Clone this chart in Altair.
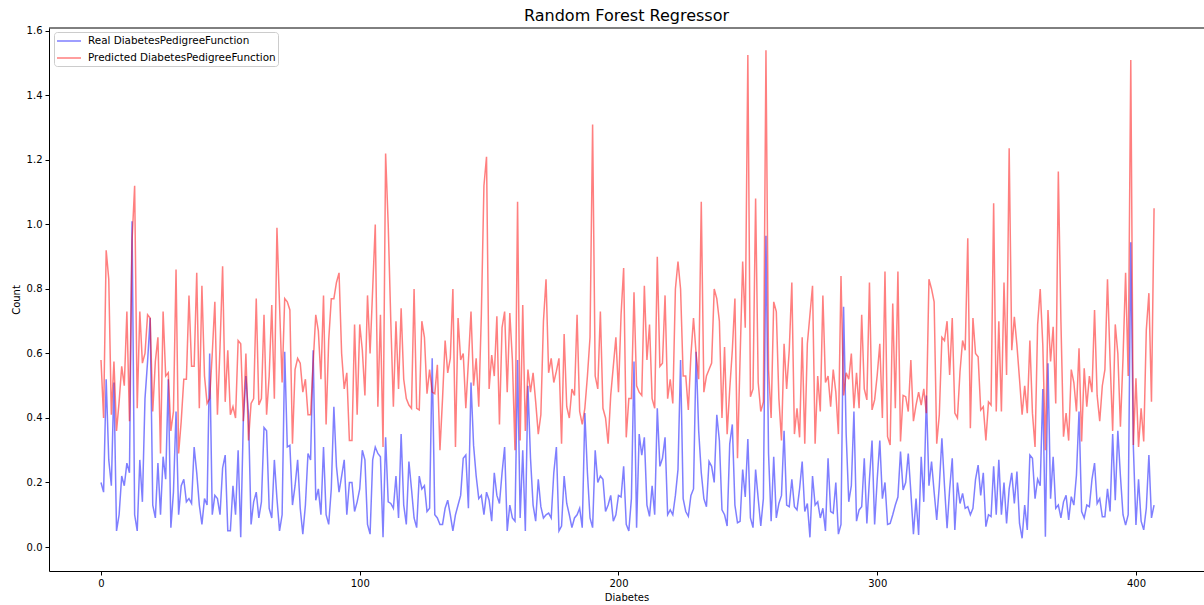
import altair as alt
import pandas as pd

# Real values (blue), index 0..407
real = [
    0.20, 0.17, 0.52, 0.27, 0.19, 0.51, 0.05, 0.10, 0.22, 0.19, 0.26, 0.23, 1.01, 0.10, 0.05, 0.27, 0.14, 0.46, 0.575, 0.71, 0.13, 0.09, 0.26, 0.10, 0.28, 0.21, 0.52, 0.06, 0.17, 0.42, 0.10, 0.19, 0.21,
    0.14, 0.15, 0.135, 0.31, 0.23, 0.13, 0.07, 0.15, 0.13, 0.60, 0.10, 0.16, 0.15, 0.10, 0.245, 0.285, 0.05, 0.05, 0.19, 0.10, 0.30, 0.03, 0.39, 0.53, 0.41, 0.07, 0.14, 0.17, 0.09, 0.14, 0.37, 0.36, 0.12, 0.09, 0.27,
    0.15, 0.05, 0.10, 0.605, 0.31, 0.315, 0.13, 0.19, 0.27, 0.12, 0.04, 0.13, 0.29, 0.27, 0.61, 0.145, 0.18, 0.10, 0.31, 0.10, 0.07, 0.18, 0.435, 0.25, 0.17, 0.22, 0.27, 0.10, 0.20, 0.20, 0.11, 0.14, 0.18, 0.30, 0.27,
    0.07, 0.04, 0.27, 0.31, 0.29, 0.28, 0.03, 0.34, 0.14, 0.135, 0.12, 0.22, 0.09, 0.35, 0.13, 0.07, 0.265, 0.18, 0.09, 0.06, 0.22, 0.18, 0.19, 0.11, 0.12, 0.585, 0.10, 0.09, 0.07, 0.07, 0.12, 0.145, 0.10, 0.05,
    0.10, 0.13, 0.16, 0.275, 0.285, 0.12, 0.51, 0.315, 0.22, 0.15, 0.16, 0.10, 0.17, 0.145, 0.08, 0.23, 0.16, 0.135, 0.23, 0.31, 0.05, 0.13, 0.09, 0.08, 0.58, 0.09, 0.30, 0.05, 0.50, 0.275, 0.13, 0.08, 0.21, 0.125, 0.09,
    0.10, 0.105, 0.09, 0.23, 0.31, 0.05, 0.065, 0.22, 0.135, 0.10, 0.06, 0.09, 0.10, 0.12, 0.06, 0.415, 0.23, 0.09, 0.06, 0.30, 0.20, 0.22, 0.21, 0.11, 0.13, 0.16, 0.08, 0.10, 0.16, 0.155, 0.25, 0.07, 0.05, 0.15, 0.575,
    0.06, 0.35, 0.285, 0.34, 0.13, 0.095, 0.19, 0.10, 0.43, 0.25, 0.275, 0.34, 0.10, 0.115, 0.10, 0.16, 0.24, 0.58, 0.15, 0.11, 0.095, 0.16, 0.18, 0.605, 0.36, 0.23, 0.15, 0.125, 0.265, 0.25, 0.20, 0.41, 0.33, 0.115, 0.10,
    0.065, 0.32, 0.38, 0.13, 0.075, 0.08, 0.24, 0.155, 0.335, 0.09, 0.06, 0.24, 0.15, 0.065, 0.15, 0.965, 0.29, 0.08, 0.28, 0.09, 0.135, 0.16, 0.36, 0.13, 0.125, 0.21, 0.125, 0.115, 0.18, 0.265, 0.11, 0.135, 0.03, 0.22,
    0.13, 0.14, 0.09, 0.12, 0.05, 0.275, 0.11, 0.105, 0.20, 0.04, 0.07, 0.745, 0.35, 0.14, 0.19, 0.42, 0.08, 0.115, 0.125, 0.275, 0.073, 0.21, 0.33, 0.07, 0.21, 0.33, 0.15, 0.20, 0.07, 0.073, 0.10, 0.13, 0.155, 0.296, 0.177,
    0.20, 0.29, 0.17, 0.04, 0.15, 0.037, 0.28, 0.14, 0.47, 0.19, 0.265, 0.17, 0.084, 0.19, 0.337, 0.19, 0.058, 0.18, 0.275, 0.053, 0.20, 0.135, 0.166, 0.12, 0.125, 0.10, 0.12, 0.21, 0.254, 0.16, 0.23, 0.063, 0.10, 0.094, 0.25,
    0.10, 0.27, 0.10, 0.20, 0.073, 0.18, 0.23, 0.135, 0.234, 0.073, 0.027, 0.13, 0.053, 0.285, 0.275, 0.15, 0.21, 0.19, 0.49, 0.032, 0.57, 0.15, 0.28, 0.12, 0.13, 0.09, 0.14, 0.16, 0.084, 0.156, 0.13, 0.223, 0.42, 0.11, 0.09,
    0.13, 0.125, 0.21, 0.26, 0.135, 0.15, 0.094, 0.094, 0.18, 0.11, 0.35, 0.145, 0.36, 0.22, 0.10, 0.068, 0.10, 0.945, 0.31, 0.068, 0.21, 0.08, 0.053, 0.12, 0.285, 0.09, 0.13,
]

# Predicted values (red)
pred = [
    0.58, 0.40, 0.92, 0.83, 0.41, 0.575, 0.36, 0.45, 0.56, 0.50, 0.73, 0.39, 0.95, 1.12, 0.43, 0.73, 0.57, 0.60, 0.72, 0.71, 0.42, 0.575, 0.65, 0.29, 0.73, 0.53, 0.54, 0.36, 0.42, 0.86, 0.29, 0.39, 0.52,
    0.52, 0.78, 0.56, 0.56, 0.85, 0.43, 0.81, 0.53, 0.445, 0.46, 0.60, 0.76, 0.41, 0.62, 0.87, 0.45, 0.61, 0.41, 0.435, 0.40, 0.64, 0.63, 0.39, 0.60, 0.33, 0.445, 0.46, 0.77, 0.44, 0.46, 0.72, 0.41, 0.53, 0.75, 0.46,
    0.99, 0.75, 0.51, 0.77, 0.76, 0.735, 0.32, 0.55, 0.585, 0.57, 0.48, 0.52, 0.41, 0.41, 0.57, 0.72, 0.67, 0.52, 0.78, 0.38, 0.64, 0.77, 0.77, 0.82, 0.85, 0.60, 0.49, 0.54, 0.33, 0.33, 0.69, 0.41, 0.69, 0.61, 0.47,
    0.78, 0.60, 0.80, 1.00, 0.435, 0.72, 0.31, 1.22, 1.00, 0.70, 0.435, 0.70, 0.49, 0.74, 0.52, 0.46, 0.44, 0.43, 0.80, 0.43, 0.425, 0.70, 0.65, 0.475, 0.55, 0.48, 0.475, 0.565, 0.30, 0.46, 0.64, 0.54, 0.585, 0.80,
    0.31, 0.71, 0.58, 0.60, 0.43, 0.575, 0.73, 0.50, 0.585, 0.435, 0.72, 1.12, 1.21, 0.49, 0.595, 0.53, 0.715, 0.38, 0.68, 0.73, 0.48, 0.725, 0.58, 0.30, 1.07, 0.33, 0.75, 0.36, 0.55, 0.48, 0.54, 0.45, 0.35, 0.41, 0.70,
    0.83, 0.54, 0.585, 0.51, 0.545, 0.585, 0.32, 0.66, 0.435, 0.40, 0.49, 0.47, 0.72, 0.42, 0.38, 0.43, 0.53, 0.65, 1.31, 0.53, 0.49, 0.73, 0.43, 0.40, 0.32, 0.47, 0.56, 0.65, 0.48, 0.72, 0.865, 0.34, 0.46, 0.46, 0.79,
    0.50, 0.48, 0.47, 0.81, 0.58, 0.69, 0.46, 0.43, 0.90, 0.56, 0.57, 0.78, 0.46, 0.52, 0.445, 0.80, 0.885, 0.80, 0.53, 0.53, 0.425, 0.595, 0.71, 0.60, 0.52, 1.07, 0.48, 0.53, 0.55, 0.57, 0.80, 0.77, 0.70, 0.40, 0.62,
    0.35, 0.49, 0.61, 0.77, 0.275, 0.585, 0.885, 0.68, 1.525, 0.466, 0.49, 1.08, 0.51, 0.42, 0.45, 1.54, 0.55, 0.40, 0.76, 0.73, 0.46, 0.33, 0.63, 0.49, 0.61, 0.82, 0.35, 0.43, 0.34, 0.65, 0.32, 0.63, 0.72, 0.81,
    0.32, 0.53, 0.42, 0.78, 0.51, 0.53, 0.435, 0.55, 0.48, 0.35, 0.84, 0.47, 0.54, 0.52, 0.60, 0.43, 0.54, 0.43, 0.72, 0.49, 0.456, 0.82, 0.425, 0.456, 0.533, 0.63, 0.40, 0.854, 0.342, 0.316, 0.755, 0.43, 0.854, 0.327, 0.47,
    0.466, 0.42, 0.58, 0.39, 0.44, 0.48, 0.44, 0.49, 0.415, 0.83, 0.80, 0.76, 0.32, 0.41, 0.65, 0.64, 0.70, 0.533, 0.71, 0.415, 0.40, 0.544, 0.64, 0.61, 0.957, 0.368, 0.71, 0.60, 0.59, 0.425, 0.435, 0.33, 0.45, 0.44, 1.066,
    0.42, 0.70, 0.42, 0.82, 0.533, 1.236, 0.61, 0.714, 0.625, 0.52, 0.41, 0.50, 0.415, 0.64, 0.415, 0.31, 0.69, 0.80, 0.626, 0.30, 0.735, 0.575, 0.683, 0.445, 1.164, 0.70, 0.342, 0.415, 0.33, 0.55, 0.51, 0.42, 0.616, 0.327, 0.554,
    0.435, 0.53, 0.48, 0.735, 0.47, 0.39, 0.50, 0.55, 0.83, 0.58, 0.36, 0.69, 0.60, 0.373, 0.585, 0.85, 0.53, 1.51, 0.316, 0.523, 0.31, 0.43, 0.327, 0.673, 0.787, 0.45, 1.05,
]

series_names = ["Real DiabetesPedigreeFunction", "Predicted DiabetesPedigreeFunction"]
series_colors = ["blue", "red"]
x_ticks = [0, 100, 200, 300, 400]
y_ticks = [0.0, 0.2, 0.4, 0.6, 0.8, 1.0, 1.2, 1.4, 1.6]

n = min(len(real), len(pred))
df = pd.DataFrame({
    "idx": list(range(n)) * 2,
    "value": real[:n] + pred[:n],
    "series": [series_names[0]] * n + [series_names[1]] * n,
})

FONT = "DejaVu Sans"
W, H = 1155, 543

axis_common = dict(
    grid=False, domainColor="black", domainWidth=1, tickColor="black", tickWidth=1,
    tickSize=4, labelPadding=3, labelFont=FONT, labelFontSize=10, labelColor="black",
    titleFont=FONT, titleFontSize=10, titleFontWeight="normal", titleColor="black",
)

x_enc = alt.X("idx:Q", scale=alt.Scale(domain=[-20.1, 426.3], nice=False, zero=False),
              axis=alt.Axis(values=x_ticks, format="d", title="Diabetes", titlePadding=4, **axis_common))
y_enc = alt.Y("value:Q", scale=alt.Scale(domain=[-0.0744, 1.609], nice=False, zero=False),
              axis=alt.Axis(values=y_ticks, format=".1f", title="Count", titlePadding=5, **axis_common))
color_enc = alt.Color(
    "series:N",
    scale=alt.Scale(domain=series_names, range=series_colors),
    legend=alt.Legend(
        title=None, orient="none", legendX=5, legendY=4,
        symbolType="M-2,0L2,0", symbolSize=144, symbolStrokeWidth=1.5, symbolOpacity=0.5,
        symbolOffset=6,
        labelFont=FONT, labelFontSize=10.4, labelColor="black", labelOffset=12, labelLimit=0,
        fillColor="white", strokeColor="#cccccc", padding=2, cornerRadius=3, rowPadding=4,
    ),
)

base = alt.Chart(df).mark_line(strokeWidth=1.5, opacity=0.5).encode(x=x_enc, y=y_enc, color=color_enc)
blue_layer = base.transform_filter(alt.datum.series == series_names[0])
red_layer = base.transform_filter(alt.datum.series == series_names[1])

top_spine = alt.Chart(pd.DataFrame({"k": [0]})).mark_rule(color="black", strokeWidth=1).encode(
    x=alt.value(0), x2=alt.value(W), y=alt.value(0)
)

chart = alt.layer(blue_layer, red_layer, top_spine).properties(
    width=W, height=H,
    title=alt.TitleParams(text="Random Forest Regressor", font=FONT, fontSize=16, fontWeight="normal",
                          color="black", anchor="middle", offset=2),
    autosize=alt.AutoSizeParams(type="none"),
    padding={"left": 49, "top": 28, "right": 0, "bottom": 34},
).configure_view(strokeOpacity=0)

chart.save("out.html", embed_options={"renderer": "svg", "actions": False})
